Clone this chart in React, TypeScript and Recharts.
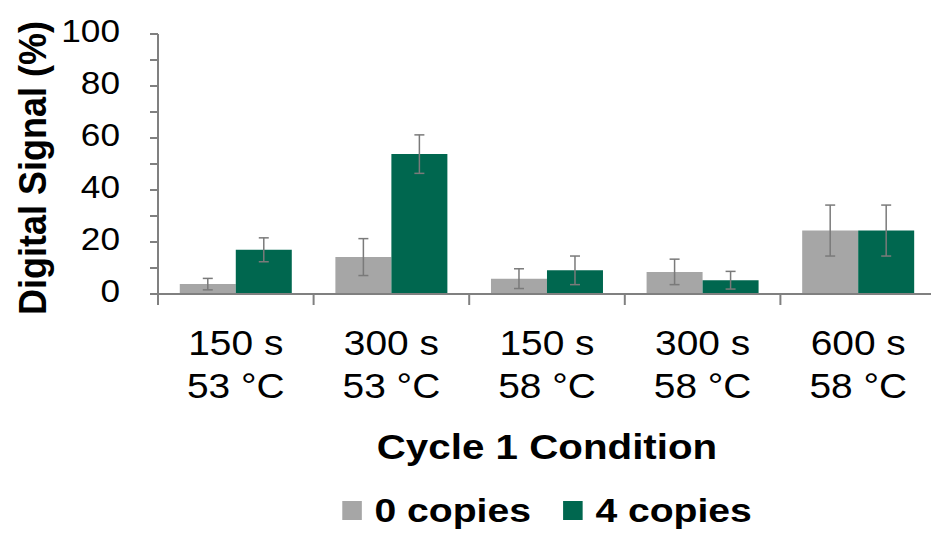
import { BarChart, Bar, XAxis, YAxis, ErrorBar, Legend } from 'recharts';

const timeLabels = ['150 s', '300 s', '150 s', '300 s', '600 s'];
const tempLabels = ['53 °C', '53 °C', '58 °C', '58 °C', '58 °C'];
const zeroCopies = [3.8, 14.2, 5.9, 8.5, 24.4];
const zeroErr = [2.2, 7.1, 3.8, 4.9, 9.8];
const fourCopies = [17.0, 53.8, 9.1, 5.3, 24.4];
const fourErr = [4.6, 7.4, 5.5, 3.4, 9.8];
const yTicks = [0, 10, 20, 30, 40, 50, 60, 70, 80, 90, 100];

const GRAY = '#A6A6A6';
const GREEN = '#00674F';
const FONT = 'Liberation Sans, Arial, sans-serif';

const data = timeLabels.map((t, i) => ({
  label: `${t}\n${tempLabels[i]}`,
  zero: zeroCopies[i],
  zeroErr: zeroErr[i],
  four: fourCopies[i],
  fourErr: fourErr[i],
}));

// the source figure is a little stretched sideways
const stretch = (x: number, k: number) => `translate(${x} 0) scale(${k} 1) translate(${-x} 0)`;

function XTick(props: any) {
  const { x, y, payload } = props;
  const [l1, l2] = String(payload.value).split('\n');
  const half = payload.offset ?? 77.75;
  return (
    <g>
      <line x1={x - half} y1={y} x2={x - half} y2={y + 11} stroke="#808080" strokeWidth={2} />
      <g transform={stretch(x, 1.08)}>
        <text x={x} y={y + 61} textAnchor="middle" fontSize={36} fill="#000" fontFamily={FONT}>{l1}</text>
        <text x={x} y={y + 104} textAnchor="middle" fontSize={36} fill="#000" fontFamily={FONT}>{l2}</text>
      </g>
    </g>
  );
}

function YTick(props: any) {
  const { x, y, payload } = props;
  if (payload.value % 20 !== 0) return <g />;
  return (
    <text x={x} y={y} dy={-3} transform={stretch(x, 1.1)} textAnchor="end" dominantBaseline="central" fontSize={32} fill="#000" fontFamily={FONT}>
      {payload.value}
    </text>
  );
}

function XTitle(props: any) {
  const { viewBox } = props;
  const cx = viewBox.x + viewBox.width / 2;
  return (
    <text x={cx} y={viewBox.y + 165} transform={stretch(cx, 1.12)} textAnchor="middle" fontSize={36} fontWeight="bold" fill="#000" fontFamily={FONT}>
      Cycle 1 Condition
    </text>
  );
}

function YTitle(props: any) {
  const { viewBox } = props;
  const cx = 32;
  const cy = viewBox.y + viewBox.height / 2 + 4;
  return (
    <text x={cx} y={cy} transform={`translate(${cx} ${cy}) scale(1.1 1) rotate(-90) translate(${-cx} ${-cy})`} textAnchor="middle" dominantBaseline="central" fontSize={36} fontWeight="bold" fill="#000" fontFamily={FONT}>
      Digital Signal (%)
    </text>
  );
}

function LegendBox() {
  const items = [
    { name: '0 copies', color: GRAY },
    { name: '4 copies', color: GREEN },
  ];
  return (
    <div style={{ display: 'flex', justifyContent: 'center', alignItems: 'center', height: 60 }}>
      <div style={{ display: 'flex', alignItems: 'center', gap: 28, fontFamily: FONT, fontWeight: 'bold', fontSize: 34, transform: 'scaleX(1.15)' }}>
        {items.map((it) => (
          <div key={it.name} style={{ display: 'flex', alignItems: 'center', gap: 11 }}>
            <div style={{ width: 17, height: 19, background: it.color }} />
            <span>{it.name}</span>
          </div>
        ))}
      </div>
    </div>
  );
}

export default function App() {
  return (
    <div style={{ position: 'absolute', left: 0, top: 0, width: 931, height: 540, background: '#fff' }}>
      <BarChart
        width={931}
        height={540}
        data={data}
        margin={{ top: 34, right: -5, left: 0, bottom: 0 }}
        barCategoryGap="14%"
        barGap={0}
      >
        <XAxis
          dataKey="label"
          height={186}
          interval={0}
          tickSize={0}
          tickMargin={0}
          tick={<XTick />}
          axisLine={{ stroke: '#808080', strokeWidth: 2 }}
          label={<XTitle />}
        />
        <YAxis
          width={158}
          domain={[0, 100]}
          ticks={yTicks}
          interval={0}
          tickSize={8}
          tickMargin={30}
          tick={<YTick />}
          tickLine={{ stroke: '#808080', strokeWidth: 2 }}
          axisLine={{ stroke: '#808080', strokeWidth: 2 }}
          label={<YTitle />}
        />
        <Legend
          verticalAlign="bottom"
          content={<LegendBox />}
          wrapperStyle={{ left: 158, width: 778, bottom: 0, height: 60 }}
        />
        <Bar dataKey="zero" name="0 copies" fill={GRAY} isAnimationActive={false}>
          <ErrorBar dataKey="zeroErr" width={5} stroke="#7A7A7A" strokeWidth={1.5} />
        </Bar>
        <Bar dataKey="four" name="4 copies" fill={GREEN} isAnimationActive={false}>
          <ErrorBar dataKey="fourErr" width={5} stroke="#7A7A7A" strokeWidth={1.5} />
        </Bar>
      </BarChart>
    </div>
  );
}
